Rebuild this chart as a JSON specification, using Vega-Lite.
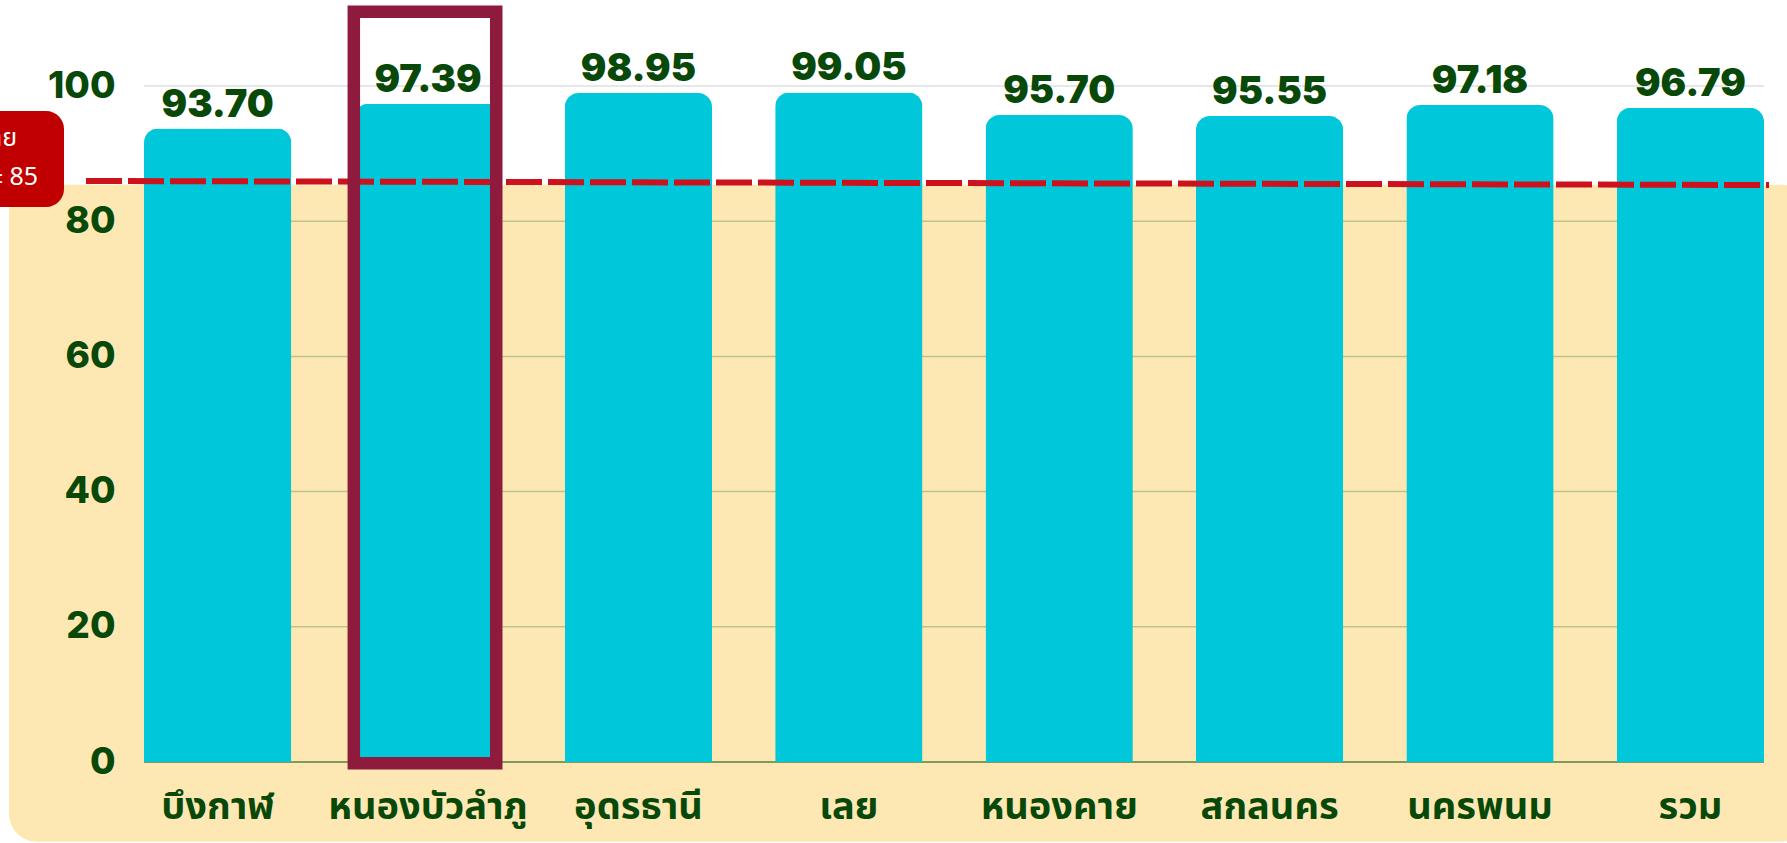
{
  "$schema": "https://vega.github.io/schema/vega-lite/v6.json",
  "autosize": {"type": "none"},
  "padding": {"left": 144, "top": 86, "right": 23, "bottom": 81},
  "width": 1620,
  "height": 676,
  "background": "#FFFFFF",
  "config": {"view": {"stroke": null}},
  "data": {"values": [
    {"area": "บึงกาฬ", "value": 93.70},
    {"area": "หนองบัวลำภู", "value": 97.39},
    {"area": "อุดรธานี", "value": 98.95},
    {"area": "เลย", "value": 99.05},
    {"area": "หนองคาย", "value": 95.70},
    {"area": "สกลนคร", "value": 95.55},
    {"area": "นครพนม", "value": 97.18},
    {"area": "รวม", "value": 96.79}
  ]},
  "layer": [
    {
      "data": {"values": [{"name": "bg"}]},
      "mark": {"type": "rect", "color": "#FDE8B4", "cornerRadius": 28, "xOffset": -135, "x2Offset": 45},
      "encoding": {
        "x": {"value": 0},
        "x2": {"value": "width"},
        "y": {"datum": 85.4, "type": "quantitative"},
        "y2": {"datum": -11.8}
      }
    },
    {
      "data": {"values": [{"tick": 20}, {"tick": 40}, {"tick": 60}, {"tick": 80}]},
      "mark": {"type": "rule", "color": "#BCC38E", "strokeWidth": 1.5},
      "encoding": {"y": {"field": "tick", "type": "quantitative"}}
    },
    {
      "data": {"values": [{"tick": 100}]},
      "mark": {"type": "rule", "color": "#DEDFDF", "strokeWidth": 1.5},
      "encoding": {"y": {"field": "tick", "type": "quantitative"}}
    },
    {
      "data": {"values": [{"tick": 0}]},
      "mark": {"type": "rule", "color": "#7E9B5C", "strokeWidth": 2},
      "encoding": {"y": {"field": "tick", "type": "quantitative"}}
    },
    {
      "mark": {"type": "bar", "color": "#00C8DA", "cornerRadiusTopLeft": 14, "cornerRadiusTopRight": 14},
      "encoding": {
        "x": {
          "field": "area", "type": "nominal", "sort": null,
          "scale": {
            "domain": ["บึงกาฬ", "หนองบัวลำภู", "อุดรธานี", "เลย", "หนองคาย", "สกลนคร", "นครพนม", "รวม"],
            "paddingInner": 0.3, "paddingOuter": 0
          },
          "axis": {
            "title": null, "domain": false, "ticks": false, "tickSize": 0, "grid": false,
            "labelAngle": 0, "labelFont": "Noto Sans Thai, Noto Sans", "labelFontWeight": "bold",
            "labelFontSize": 38, "labelColor": "#084808", "labelBaseline": "middle",
            "labelPadding": 45, "labelLimit": 0, "zindex": 1
          }
        },
        "y": {
          "field": "value", "type": "quantitative",
          "scale": {"domain": [0, 100], "nice": false, "zero": true},
          "axis": {
            "title": null, "domain": false, "ticks": false, "tickSize": 0, "grid": false,
            "values": [0, 20, 40, 60, 80, 100],
            "labelFont": "Inter", "labelFontWeight": 800, "labelFontSize": 37,
            "labelColor": "#084808", "labelPadding": 29, "zindex": 1
          }
        }
      }
    },
    {
      "data": {"values": [{"name": "target"}]},
      "mark": {"type": "rule", "color": "#CC121C", "strokeWidth": 6, "strokeDash": [36, 6], "xOffset": -58, "x2Offset": 5},
      "encoding": {
        "x": {"value": 0},
        "x2": {"value": "width"},
        "y": {"datum": 85.95, "type": "quantitative"},
        "y2": {"datum": 85.35}
      }
    },
    {
      "data": {"values": [{"area": "หนองบัวลำภู"}]},
      "mark": {"type": "rect", "filled": false, "stroke": "#8E1A3E", "strokeWidth": 12.5, "width": {"band": 0.967}, "xOffset": -3},
      "encoding": {
        "x": {"field": "area", "type": "nominal", "sort": null},
        "y": {"datum": -0.2, "type": "quantitative"},
        "y2": {"datum": 111}
      }
    },
    {
      "mark": {"type": "text", "font": "Inter", "fontWeight": 900, "fontSize": 38, "color": "#084808", "baseline": "alphabetic", "align": "center", "dy": -12},
      "encoding": {
        "x": {"field": "area", "type": "nominal", "sort": null},
        "y": {"field": "value", "type": "quantitative"},
        "text": {"field": "value", "type": "quantitative", "format": ".2f"}
      }
    },
    {
      "data": {"values": [{"name": "label"}]},
      "mark": {"type": "rect", "color": "#C00000", "cornerRadius": 18, "xOffset": -200, "x2Offset": -80},
      "encoding": {
        "x": {"value": 0},
        "x2": {"value": 0},
        "y": {"datum": 96.3, "type": "quantitative"},
        "y2": {"datum": 82.1}
      }
    },
    {
      "data": {"values": [{"line": "เป้าหมาย"}]},
      "mark": {"type": "text", "font": "Noto Sans Thai, Noto Sans", "fontSize": 25, "color": "#FFFFFF", "align": "right", "baseline": "middle", "xOffset": -127},
      "encoding": {
        "x": {"value": 0},
        "y": {"datum": 92.3, "type": "quantitative"},
        "text": {"field": "line"}
      }
    },
    {
      "data": {"values": [{"line": "ร้อยละ 85"}]},
      "mark": {"type": "text", "font": "Noto Sans Thai, Noto Sans", "fontSize": 25, "color": "#FFFFFF", "align": "right", "baseline": "middle", "xOffset": -106},
      "encoding": {
        "x": {"value": 0},
        "y": {"datum": 86.6, "type": "quantitative"},
        "text": {"field": "line"}
      }
    }
  ]
}
